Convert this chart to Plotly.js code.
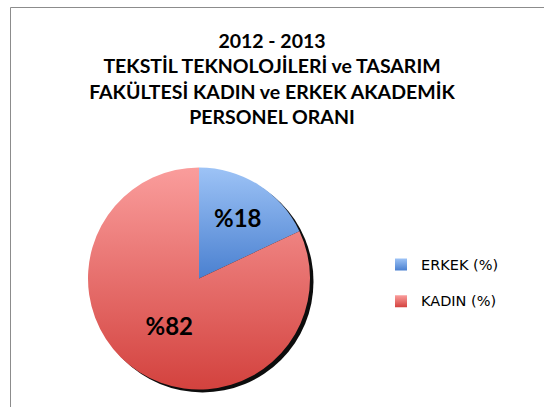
<!DOCTYPE html>
<html>
<head>
<meta charset="utf-8">
<script src="https://cdn.plot.ly/plotly-3.0.1.min.js"></script>
<style>
  html, body { margin: 0; padding: 0; background: #ffffff; }
  #chart { width: 544px; height: 407px; }
</style>
</head>
<body>
<div id="chart"></div>
<script>
// ---- data ----
const titleLines = ["2012 - 2013", "TEKSTİL TEKNOLOJİLERİ ve TASARIM", "FAKÜLTESİ KADIN ve ERKEK AKADEMİK", "PERSONEL ORANI"];
const categories = ["ERKEK (%)", "KADIN (%)"];
const values = [18, 82];
const sliceLabels = values.map(v => "%" + v);

// ---- styles ----
const baseColors = ["#6d9fe4", "#e8706d"];
const gradStops = [["#9dc3f6", "#4a80d0"], ["#fa9d9c", "#d3423e"]];

const W = 544, H = 407;
const pieX = [88 / W, 310 / W];
const pieY = [1 - 390 / H, 1 - 167 / H];
const shadowDx = 3.5 / W, shadowDy = 3 / H;

// legend entries: larger text size than the row unit, blank second line for row spacing
const legendLabels = categories.map(c => '<span style="font-size:14.5px">' + c + '</span><br> ');

// decorative drop shadow: a full dark disc drawn underneath, slightly offset
const shadowTrace = {
  type: "pie",
  labels: ["shadow"],
  values: [1],
  textinfo: "none",
  hoverinfo: "none",
  showlegend: false,
  sort: false,
  marker: { colors: ["#0d0d0d"], line: { width: 0 } },
  domain: { x: [pieX[0] + shadowDx, pieX[1] + shadowDx], y: [pieY[0] - shadowDy, pieY[1] - shadowDy] }
};

const trace = {
  type: "pie",
  labels: legendLabels,
  values: values,
  text: sliceLabels,
  textinfo: "text",
  textposition: "inside",
  insidetextorientation: "horizontal",
  textfont: { family: "Lato, sans-serif", size: 24, color: "#000000", weight: "bold" },
  sort: false,
  direction: "clockwise",
  rotation: 0,
  hoverinfo: "none",
  marker: { colors: baseColors, line: { width: 0 } },
  domain: { x: pieX, y: pieY }
};

const layout = {
  width: W,
  height: H,
  margin: { l: 0, r: 0, t: 0, b: 0 },
  paper_bgcolor: "#ffffff",
  plot_bgcolor: "#ffffff",
  title: {
    text: titleLines.join("<br>"),
    font: { family: "Lato, sans-serif", size: 19.5, color: "#000000", weight: "bold" },
    x: 0.5, xref: "paper", xanchor: "center",
    y: 1 - 48 / H, yref: "container", yanchor: "top"
  },
  showlegend: true,
  legend: {
    x: 381 / W, xanchor: "left",
    y: 1 - 249.5 / H, yanchor: "top",
    valign: "top",
    font: { family: "DejaVu Sans, sans-serif", size: 13, color: "#000000" },
    bgcolor: "rgba(0,0,0,0)"
  },
  shapes: [
    {
      type: "rect", xref: "paper", yref: "paper", layer: "below",
      x0: 10.5 / W, x1: 1.2, y0: -0.2, y1: 1 - 7.5 / H,
      line: { color: "#8c8c8c", width: 1 }, fillcolor: "rgba(0,0,0,0)"
    }
  ]
};

const NS = "http://www.w3.org/2000/svg";

function addGradients(gd) {
  try {
    const svg = gd.querySelector(".main-svg");
    let defs = svg.querySelector("defs");
    if (!defs) { defs = document.createElementNS(NS, "defs"); svg.insertBefore(defs, svg.firstChild); }
    gradStops.forEach(function (stops, i) {
      const g = document.createElementNS(NS, "linearGradient");
      g.setAttribute("id", "sliceGrad" + i);
      g.setAttribute("x1", "0"); g.setAttribute("y1", "0");
      g.setAttribute("x2", "0"); g.setAttribute("y2", "1");
      stops.forEach(function (c, k) {
        const s = document.createElementNS(NS, "stop");
        s.setAttribute("offset", k === 0 ? "0" : "1");
        s.setAttribute("stop-color", c);
        g.appendChild(s);
      });
      defs.appendChild(g);
    });
    const traces = gd.querySelectorAll(".pielayer g.trace");
    const mainTrace = traces[traces.length - 1];
    mainTrace.querySelectorAll("path.surface").forEach(function (p, i) {
      p.style.fill = "url(#sliceGrad" + i + ")";
    });
    gd.querySelectorAll(".legendpoints path").forEach(function (p, i) {
      p.style.fill = "url(#sliceGrad" + i + ")";
    });
  } catch (e) { /* decoration only */ }
}

Plotly.newPlot("chart", [shadowTrace, trace], layout, { displayModeBar: false, staticPlot: true }).then(addGradients);
</script>
</body>
</html>
